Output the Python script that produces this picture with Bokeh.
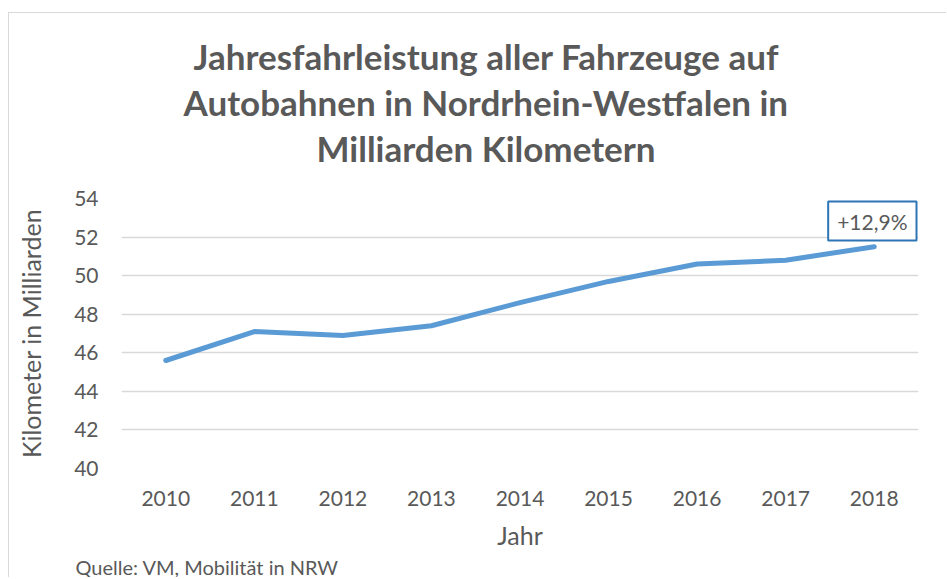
from bokeh.plotting import figure
from bokeh.models import Range1d, Title, Label, FactorRange
from bokeh.embed import file_html
from bokeh.resources import INLINE

years = ["2010", "2011", "2012", "2013", "2014", "2015", "2016", "2017", "2018"]
km_billion = [45.6, 47.1, 46.9, 47.4, 48.6, 49.7, 50.6, 50.8, 51.5]
y_ticks = [40, 42, 44, 46, 48, 50, 52, 54]
title_lines = ["Jahresfahrleistung aller Fahrzeuge auf",
               "Autobahnen in Nordrhein-Westfalen in",
               "Milliarden Kilometern"]
change_label = "+12,9%"
source_text = "Quelle: VM, Mobilität in NRW"

TXT = "#595959"
FONT = "Lato"

p = figure(x_range=FactorRange(*years), y_range=Range1d(y_ticks[0], y_ticks[-1]),
           width=938, height=565, output_backend="svg", toolbar_location=None,
           min_border_left=112, min_border_right=29, min_border_top=0, min_border_bottom=0)
p.title = None
p.outline_line_color = None
p.styles = {"border-left": "1px solid #d9d9d9", "border-top": "1px solid #d9d9d9",
            "margin-top": "12px", "margin-left": "8px"}

p.line(x=years, y=km_billion, line_color="#5b9bd5", line_width=5, line_cap="round",
       line_join="round")

p.xgrid.grid_line_color = None
p.ygrid.grid_line_color = "#d9d9d9"
p.ygrid.grid_line_width = 1.5
p.yaxis.ticker = y_ticks

for ax in (p.xaxis[0], p.yaxis[0]):
    ax.axis_line_color = None
    ax.major_tick_line_color = None
    ax.minor_tick_line_color = None
    ax.major_label_text_font = FONT
    ax.major_label_text_font_size = "21px"
    ax.major_label_text_color = TXT
    ax.axis_label_text_font = FONT
    ax.axis_label_text_font_size = "25px"
    ax.axis_label_text_color = TXT
    ax.axis_label_text_font_style = "normal"

p.xaxis.axis_label = "Jahr"
p.yaxis.axis_label = "Kilometer in Milliarden"
p.xaxis.major_label_standoff = 16
p.xaxis.axis_label_standoff = 11
p.yaxis.major_label_standoff = 17
p.yaxis.axis_label_standoff = 25

def spacer(px):
    return Title(text=" ", text_font_size="1px", standoff=px)

# above panels: added innermost (nearest the frame) first
p.add_layout(spacer(26), "above")
for line, off in zip(reversed(title_lines), (195, 62, 72)):
    p.add_layout(Title(text=line, align="left", offset=off, text_font=FONT,
                       text_font_size="35px", text_font_style="bold", text_color=TXT,
                       standoff=2), "above")
p.add_layout(spacer(15), "above")

p.add_layout(Title(text=source_text, align="left", text_font=FONT, text_font_size="20px",
                   text_font_style="normal", text_color=TXT, offset=-46, standoff=0), "below")

p.add_layout(Label(x=9, y=y_ticks[-1], x_offset=-2, y_offset=-3, text=change_label,
                   anchor="top_right",
                   text_font=FONT, text_font_size="21px", text_color=TXT,
                   border_line_color="#2e75b6", border_line_width=2,
                   background_fill_color="white", padding=(9, 7)))

open("out.html", "w").write(file_html(p, INLINE))
